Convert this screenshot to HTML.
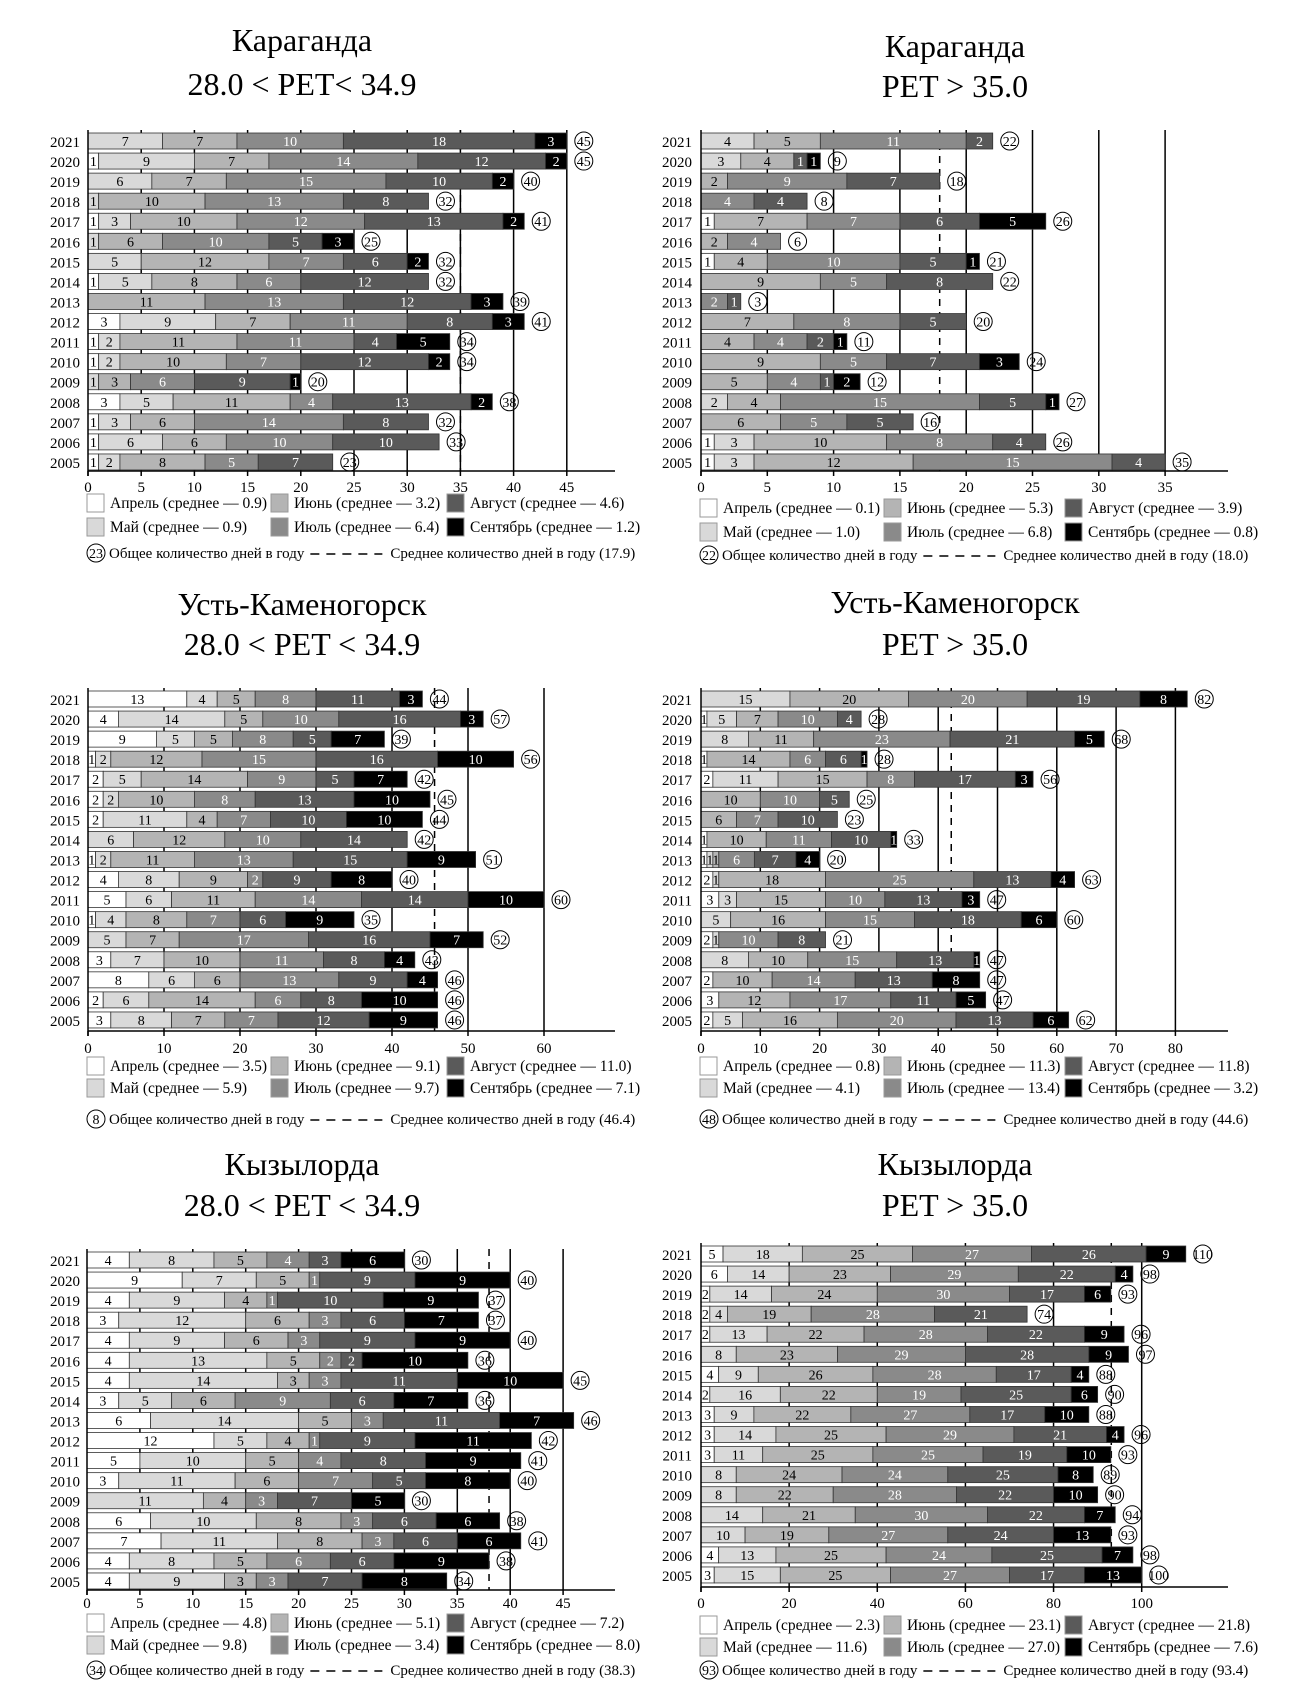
<!DOCTYPE html>
<html><head><meta charset="utf-8">
<style>
html,body{margin:0;padding:0;background:#fff;}
svg{display:block;font-family:"Liberation Serif","DejaVu Serif",serif;}
</style></head>
<body>
<svg id="fig" xmlns="http://www.w3.org/2000/svg" width="1310" height="1685" viewBox="0 0 1310 1685"></svg>
<script>
const years = [2021,2020,2019,2018,2017,2016,2015,2014,2013,2012,2011,2010,2009,2008,2007,2006,2005];
const monthNames = ["Апрель","Май","Июнь","Июль","Август","Сентябрь"];

// Chart 1: Караганда 28.0–34.9
const c1Apr = [0,1,0,0,1,0,0,1,0,3,1,1,0,3,1,1,1];
const c1May = [7,9,6,1,3,1,5,5,0,9,2,2,1,5,3,6,2];
const c1Jun = [7,7,7,10,10,6,12,8,11,7,11,10,3,11,6,6,8];
const c1Jul = [10,14,15,13,12,10,7,6,13,11,11,7,6,4,14,10,5];
const c1Aug = [18,12,10,8,13,5,6,12,12,8,4,12,9,13,8,10,7];
const c1Sep = [3,2,2,0,2,3,2,0,3,3,5,2,1,2,0,0,0];
const c1Tot = [45,45,40,32,41,25,32,32,39,41,34,34,20,38,32,33,23];
const c1Means = ["0.9","0.9","3.2","6.4","4.6"," 1.2"];
const c1Ticks = [0,5,10,15,20,25,30,35,40,45];

// Chart 2: Караганда > 35
const c2Apr = [0,0,0,0,1,0,1,0,0,0,0,0,0,0,0,1,1];
const c2May = [4,3,0,0,0,0,0,0,0,0,0,0,0,2,0,3,3];
const c2Jun = [5,4,2,0,7,2,4,9,0,7,4,9,5,4,6,10,12];
const c2Jul = [11,0,9,4,7,4,10,5,2,8,4,5,4,15,5,8,15];
const c2Aug = [2,1,7,4,6,0,5,8,1,5,2,7,1,5,5,4,4];
const c2Sep = [0,1,0,0,5,0,1,0,0,0,1,3,2,1,0,0,0];
const c2Tot = [22,9,18,8,26,6,21,22,3,20,11,24,12,27,16,26,35];
const c2Means = ["0.1","1.0","5.3","6.8","3.9"," 0.8"];
const c2Ticks = [0,5,10,15,20,25,30,35];

// Chart 3: Усть-Каменогорск 28.0–34.9
const c3Apr = [13,4,9,1,2,2,2,0,1,4,5,1,0,3,8,2,3];
const c3May = [4,14,5,2,5,2,11,6,2,8,6,4,5,7,6,6,8];
const c3Jun = [5,5,5,12,14,10,4,12,11,9,11,8,7,10,6,14,7];
const c3Jul = [8,10,8,15,9,8,7,10,13,2,14,7,17,11,13,6,7];
const c3Aug = [11,16,5,16,5,13,10,14,15,9,14,6,16,8,9,8,12];
const c3Sep = [3,3,7,10,7,10,10,0,9,8,10,9,7,4,4,10,9];
const c3Tot = [44,57,39,56,42,45,44,42,51,40,60,35,52,43,46,46,46];
const c3Means = ["3.5","5.9","9.1","9.7","11.0"," 7.1"];
const c3Ticks = [0,10,20,30,40,50,60];

// Chart 4: Усть-Каменогорск > 35
const c4Apr = [0,1,0,1,2,0,0,1,1,2,3,0,2,0,2,3,2];
const c4May = [15,5,8,0,11,0,0,0,1,1,3,5,1,8,0,0,5];
const c4Jun = [20,7,11,14,15,10,6,10,1,18,15,16,0,10,10,12,16];
const c4Jul = [20,10,23,6,8,10,7,11,6,25,10,15,10,15,14,17,20];
const c4Aug = [19,4,21,6,17,5,10,10,7,13,13,18,8,13,13,11,13];
const c4Sep = [8,0,5,1,3,0,0,1,4,4,3,6,0,1,8,5,6];
const c4Tot = [82,28,68,28,56,25,23,33,20,63,47,60,21,47,47,47,62];
const c4Means = ["0.8","4.1","11.3","13.4","11.8"," 3.2"];
const c4Ticks = [0,10,20,30,40,50,60,70,80];

// Chart 5: Кызылорда 28.0–34.9
const c5Apr = [4,9,4,3,4,4,4,3,6,12,5,3,0,6,7,4,4];
const c5May = [8,7,9,12,9,13,14,5,14,5,10,11,11,10,11,8,9];
const c5Jun = [5,5,4,6,6,5,3,6,5,4,5,6,4,8,8,5,3];
const c5Jul = [4,1,1,3,3,2,3,9,3,1,4,7,3,3,3,6,3];
const c5Aug = [3,9,10,6,9,2,11,6,11,9,8,5,7,6,6,6,7];
const c5Sep = [6,9,9,7,9,10,10,7,7,11,9,8,5,6,6,9,8];
const c5Tot = [30,40,37,37,40,36,45,36,46,42,41,40,30,38,41,38,34];
const c5Means = ["4.8","9.8","5.1","3.4","7.2"," 8.0"];
const c5Ticks = [0,5,10,15,20,25,30,35,40,45];

// Chart 6: Кызылорда > 35
const c6Apr = [5,6,2,2,2,0,4,2,3,3,3,0,0,0,0,4,3];
const c6May = [18,14,14,4,13,8,9,16,9,14,11,8,8,14,10,13,15];
const c6Jun = [25,23,24,19,22,23,26,22,22,25,25,24,22,21,19,25,25];
const c6Jul = [27,29,30,28,28,29,28,19,27,29,25,24,28,30,27,24,27];
const c6Aug = [26,22,17,21,22,28,17,25,17,21,19,25,22,22,24,25,17];
const c6Sep = [9,4,6,0,9,9,4,6,10,4,10,8,10,7,13,7,13];
const c6Tot = [110,98,93,74,96,97,88,90,88,96,93,89,90,94,93,98,100];
const c6Means = ["2.3","11.6","23.1","27.0","21.8"," 7.6"];
const c6Ticks = [0,20,40,60,80,100];

const fills = ["#ffffff","#d9d9d9","#b4b4b4","#8a8a8a","#5a5a5a","#000000"];
const textCol = ["#000","#000","#000","#fff","#fff","#fff"];
const NS = "http://www.w3.org/2000/svg";
const svg = document.getElementById("fig");

function mk(tag, attrs, parent, txt){
  const e = document.createElementNS(NS, tag);
  for (const k in attrs) e.setAttribute(k, attrs[k]);
  if (txt !== undefined) e.textContent = txt;
  (parent||svg).appendChild(e);
  return e;
}

function drawChart(id, L, series, totals, means, ticks, avgLabel, avgPos, titles, noteNum){
  const g = mk("g", {});
  
  
  const xs = v => L.x0 + v * L.unit;
  const yRow = i => L.rowTop + i * L.pitch;
  // titles
  titles.forEach((t, k) => {
    const tt = mk("text", {x: L.titleX, y: L.titleY[k] + 11, "text-anchor":"middle", "font-size": 32}, g, t);
    
    
  });
  // gridlines
  ticks.forEach(t => {
    if (t === 0) return;
    const gl = mk("line", {x1: xs(t), x2: xs(t), y1: L.rowTop - 3, y2: L.axisY, stroke:"#000", "stroke-width":1.5}, g);
    
    
  });
  // average dashed line
  const dl = mk("line", {x1: xs(avgPos), x2: xs(avgPos), y1: L.rowTop - 3, y2: L.axisY, stroke:"#000", "stroke-width":1.5, "stroke-dasharray":"7,6"}, g);
  
  
  // bars
  years.forEach((yr, i) => {
    const y = yRow(i);
    const yl = mk("text", {x: L.yearX, y: y + L.barH/2 + 6, "text-anchor":"end", "font-size": 15}, g, String(yr));
    
    
    let acc = 0;
    series.forEach((arr, m) => {
      const v = arr[i];
      if (!v) return;
      const r = mk("rect", {x: xs(acc), y: y, width: v * L.unit, height: L.barH, fill: fills[m], stroke:"#333", "stroke-width":0.8}, g);
      
      
      const lb = mk("text", {x: xs(acc + v/2), y: y + L.barH/2 + 5, "text-anchor":"middle", "font-size": 14, fill: textCol[m]}, g, String(v));
      
      
      acc += v;
    });
    const cx = xs(acc) + 17, cy = y + L.barH/2;
    const c = mk("circle", {cx: cx, cy: cy, r: 9, fill:"none", stroke:"#000", "stroke-width":1}, g);
    
    
    const ct = mk("text", {x: cx, y: cy + 5, "text-anchor":"middle", "font-size": 14}, g, String(totals[i]));
    
    
  });
  // axis
  const ax = mk("line", {x1: L.x0, x2: L.axisEnd, y1: L.axisY, y2: L.axisY, stroke:"#000", "stroke-width":1.5}, g);
  
  
  const ay = mk("line", {x1: L.x0, x2: L.x0, y1: L.rowTop - 3, y2: L.axisY + 5, stroke:"#000", "stroke-width":1.5}, g);
  
  
  ticks.forEach(t => {
    const tk = mk("line", {x1: xs(t), x2: xs(t), y1: L.axisY, y2: L.axisY + 5, stroke:"#000", "stroke-width":1.5}, g);
    
    
    const tl = mk("text", {x: xs(t), y: L.tickY, "text-anchor":"middle", "font-size": 15}, g, String(t));
    
    
  });
  // legend
  const order = [[0,0],[1,1],[2,0],[3,1],[4,0],[5,1]];
  order.forEach(([m, row], k) => {
    const col = Math.floor(k/2);
    const lx = L.lx[col], ly = L.ly[row];
    const sw = mk("rect", {x: lx, y: ly - 9, width: 17, height: 18, fill: fills[m], stroke:"#999", "stroke-width":1}, g);
    
    
    const lt = mk("text", {x: lx + 23, y: ly + 5, "font-size": 15.5}, g, monthNames[m] + " (среднее — " + means[m] + ")");
    
    
  });
  // note
  const nx = L.lx[0];
  const nc = mk("circle", {cx: nx + 9, cy: L.noteY, r: 9, fill:"none", stroke:"#000", "stroke-width":1}, g);
  
  
  const nn = mk("text", {x: nx + 9, y: L.noteY + 5, "text-anchor":"middle", "font-size": 14}, g, noteNum);
  
  
  const t1 = mk("text", {x: nx + 22, y: L.noteY + 5, "font-size": 15}, g, "Общее количество дней в году");
  
  
  const w1 = t1.getComputedTextLength();
  const dx = nx + 22 + w1 + 6;
  const nd = mk("line", {x1: dx, x2: dx + 72, y1: L.noteY + 1, y2: L.noteY + 1, stroke:"#000", "stroke-width":1.5, "stroke-dasharray":"9,7"}, g);
  
  
  const t2 = mk("text", {x: dx + 80, y: L.noteY + 5, "font-size": 15}, g, "Среднее количество дней в году (" + avgLabel + ")");
  
  
}

const LX_L = [87,271,447], LX_R = [700,884,1065];
const base = {pitch: 20.06, barH: 16};

drawChart("chart-karaganda-28", Object.assign({x0:88, unit:10.64, axisEnd:615, rowTop:133, axisY:471, tickY:492, yearX:80, lx:LX_L, ly:[503,527], noteY:553, titleX:302, titleY:[40,84]}, base),
  [c1Apr,c1May,c1Jun,c1Jul,c1Aug,c1Sep], c1Tot, c1Means, c1Ticks, "17.9", 35, ["Караганда","28.0 < PET< 34.9"], "23");

drawChart("chart-karaganda-35", Object.assign({x0:701, unit:13.26, axisEnd:1228, rowTop:133, axisY:471, tickY:492, yearX:692, lx:LX_R, ly:[508,532], noteY:555, titleX:955, titleY:[46,86]}, base),
  [c2Apr,c2May,c2Jun,c2Jul,c2Aug,c2Sep], c2Tot, c2Means, c2Ticks, "18.0", 18, ["Караганда","PET > 35.0"], "22");

drawChart("chart-ust-kamenogorsk-28", Object.assign({x0:88, unit:7.6, axisEnd:615, rowTop:691, axisY:1031, tickY:1053, yearX:80, lx:LX_L, ly:[1066,1088], noteY:1119, titleX:302, titleY:[604,644]}, base),
  [c3Apr,c3May,c3Jun,c3Jul,c3Aug,c3Sep], c3Tot, c3Means, c3Ticks, "46.4", 45.6, ["Усть-Каменогорск","28.0 < PET < 34.9"], "8");

drawChart("chart-ust-kamenogorsk-35", Object.assign({x0:701, unit:5.93, axisEnd:1228, rowTop:691, axisY:1031, tickY:1053, yearX:692, lx:LX_R, ly:[1066,1088], noteY:1119, titleX:955, titleY:[602,644]}, base),
  [c4Apr,c4May,c4Jun,c4Jul,c4Aug,c4Sep], c4Tot, c4Means, c4Ticks, "44.6", 42.2, ["Усть-Каменогорск","PET > 35.0"], "48");

drawChart("chart-kyzylorda-28", Object.assign({x0:87, unit:10.58, axisEnd:615, rowTop:1252, axisY:1590, tickY:1608, yearX:80, lx:LX_L, ly:[1623,1645], noteY:1670, titleX:302, titleY:[1164,1205]}, base),
  [c5Apr,c5May,c5Jun,c5Jul,c5Aug,c5Sep], c5Tot, c5Means, c5Ticks, "38.3", 38, ["Кызылорда","28.0 < PET < 34.9"], "34");

drawChart("chart-kyzylorda-35", Object.assign({x0:701, unit:4.407, axisEnd:1228, rowTop:1246, axisY:1587, tickY:1608, yearX:692, lx:LX_R, ly:[1625,1647], noteY:1670, titleX:955, titleY:[1164,1205]}, base),
  [c6Apr,c6May,c6Jun,c6Jul,c6Aug,c6Sep], c6Tot, c6Means, c6Ticks, "93.4", 93.1, ["Кызылорда","PET > 35.0"], "93");
</script>
</body></html>
